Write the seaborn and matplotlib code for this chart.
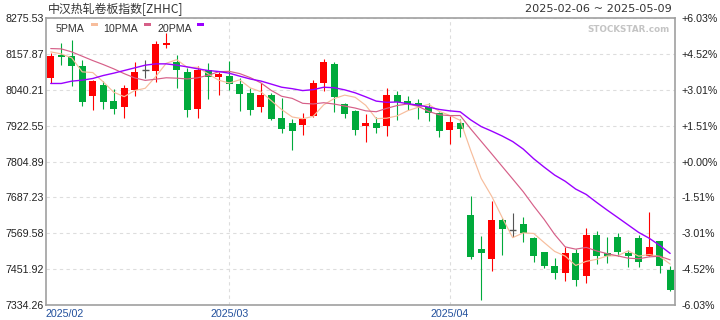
import matplotlib
matplotlib.use("Agg")
import matplotlib.pyplot as plt
import matplotlib.patches as mpatches
import seaborn as sns
import pandas as pd
import numpy as np

# ---------------- data ----------------
title = "中汉热轧卷板指数[ZHHC]"
date_range = "2025-02-06 ~ 2025-05-09"
watermark = "STOCKSTAR.com"
legend_names = ["5PMA", "10PMA", "20PMA"]
month_labels = ["2025/02", "2025/03", "2025/04"]
month_idx = [0, 17, 38]
price_ticks = [7334.26, 7451.92, 7569.58, 7687.23, 7804.89, 7922.55, 8040.21, 8157.87, 8275.53]
pct_labels = ["-6.03%", "-4.52%", "-3.01%", "-1.51%", "+0.00%", "+1.51%", "+3.01%", "+4.52%", "+6.03%"]

open_ = [8078.2, 8153.5, 8152.4, 8119.7, 8020.4, 8055.3, 8001.8, 7983.3, 8040.0, 8104.4,
         8101.1, 8188.4, 8130.6, 8100.0, 7976.7, 8105.5, 8081.5, 8083.7, 8058.6, 8028.0,
         7983.3, 8021.5, 7946.2, 7929.8, 7924.4, 7954.9, 8061.9, 8126.2, 7994.2, 7969.1,
         7921.1, 7929.8, 7921.1, 8021.5, 8001.8, 7995.3, 7983.3, 7962.6, 7908.0, 7929.8,
         7628.7, 7516.3, 7485.7, 7612.3, 7580.7, 7601.4, 7553.4, 7507.6, 7461.7, 7439.9,
         7504.3, 7430.1, 7563.2, 7504.3, 7556.6, 7503.2, 7553.4, 7493.4, 7543.6, 7448.6]
high = [8161.1, 8193.9, 8204.8, 8139.3, 8071.7, 8068.4, 8043.3, 8054.2, 8131.7, 8139.3,
        8201.5, 8226.6, 8155.7, 8112.0, 8117.5, 8128.4, 8098.9, 8133.9, 8079.3, 8044.4,
        8062.9, 8030.2, 8011.6, 7942.9, 7962.6, 8073.8, 8142.6, 8130.6, 7997.5, 7972.4,
        7959.3, 7951.6, 8044.4, 8034.6, 8019.3, 8008.4, 7997.5, 7966.9, 7953.8, 7945.1,
        7690.9, 7559.9, 7674.5, 7618.8, 7635.2, 7623.2, 7556.0, 7508.7, 7486.8, 7526.1,
        7517.4, 7587.2, 7576.3, 7557.7, 7571.9, 7514.1, 7563.2, 7638.5, 7543.6, 7462.8]
low = [8061.9, 8120.8, 8052.0, 7986.6, 7973.5, 7977.8, 7961.5, 7948.4, 8019.3, 8079.3,
       8065.1, 8177.5, 8046.6, 7950.6, 7948.4, 8010.6, 8022.6, 8040.0, 7970.2, 7957.1,
       7966.9, 7940.7, 7898.2, 7842.5, 7891.6, 7951.6, 8035.7, 7966.9, 7947.3, 7891.6,
       7868.7, 7898.2, 7888.4, 7940.7, 7972.4, 7944.0, 7937.5, 7885.1, 7862.2, 7885.1,
       7485.7, 7351.5, 7446.5, 7498.8, 7557.7, 7541.4, 7475.9, 7456.3, 7420.3, 7413.8,
       7397.4, 7407.2, 7469.4, 7472.6, 7495.6, 7459.6, 7459.6, 7493.4, 7439.9, 7380.9]
close = [8152.4, 8146.9, 8117.5, 7999.6, 8067.3, 7999.6, 7976.7, 8044.4, 8100.0, 8104.4,
         8191.7, 8193.9, 8104.4, 7973.5, 8105.5, 8082.6, 8091.3, 8058.6, 8025.8, 7973.5,
         8021.5, 7944.0, 7911.3, 7904.7, 7944.0, 8060.8, 8132.8, 8014.9, 7960.4, 7908.0,
         7929.8, 7914.6, 8021.5, 7998.6, 7993.1, 7985.5, 7964.7, 7904.7, 7933.1, 7911.3,
         7492.3, 7505.4, 7612.3, 7585.0, 7580.7, 7570.8, 7495.6, 7462.8, 7439.9, 7504.3,
         7417.0, 7563.2, 7495.6, 7495.6, 7508.7, 7495.6, 7475.9, 7523.9, 7462.8, 7384.2]

ma5 = [8164.4, 8157.9, 8144.8, 8098.9, 8096.7, 8066.2, 8032.1, 8017.5, 8037.6, 8045.0,
       8083.4, 8126.9, 8138.9, 8113.6, 8113.8, 8092.0, 8071.5, 8062.3, 8072.8, 8046.4,
       8034.1, 8004.7, 7975.2, 7951.0, 7945.1, 7953.0, 7990.7, 8011.4, 8022.6, 8015.4,
       7989.2, 7945.5, 7946.9, 7954.5, 7971.5, 7982.7, 7992.7, 7969.3, 7956.2, 7939.9,
       7841.2, 7749.4, 7690.9, 7621.3, 7555.1, 7570.8, 7568.9, 7539.0, 7510.0, 7494.7,
       7463.9, 7477.4, 7484.0, 7495.1, 7496.0, 7511.7, 7494.3, 7499.9, 7493.4, 7468.5]
ma10 = [8175.3, 8174.2, 8164.4, 8150.2, 8136.0, 8122.9, 8108.8, 8093.0, 8079.0, 8070.9,
        8074.8, 8079.5, 8078.2, 8075.6, 8079.4, 8087.7, 8099.2, 8100.6, 8093.2, 8080.1,
        8063.1, 8038.1, 8018.8, 8011.9, 7995.7, 7993.6, 7997.7, 7993.3, 7986.8, 7980.2,
        7971.1, 7968.1, 7979.2, 7988.5, 7993.5, 7985.9, 7969.1, 7958.1, 7955.4, 7955.7,
        7911.9, 7871.0, 7830.1, 7788.7, 7747.5, 7706.0, 7659.1, 7614.9, 7565.6, 7524.9,
        7517.4, 7523.2, 7511.5, 7502.6, 7495.4, 7487.8, 7485.9, 7492.0, 7494.3, 7482.3]
ma20 = [8060.8, 8060.8, 8068.4, 8071.7, 8077.1, 8086.9, 8094.6, 8103.3, 8112.0, 8120.8,
        8125.1, 8125.1, 8120.8, 8115.3, 8108.8, 8103.3, 8100.0, 8094.6, 8084.8, 8075.5,
        8068.9, 8058.8, 8048.5, 8043.7, 8037.5, 8040.6, 8048.4, 8046.9, 8039.9, 8030.1,
        8017.0, 8003.0, 7998.9, 8000.1, 7994.5, 7989.7, 7983.3, 7975.6, 7971.0, 7967.9,
        7941.4, 7919.5, 7904.5, 7888.5, 7870.3, 7845.8, 7814.0, 7786.4, 7760.3, 7740.1,
        7714.5, 7696.9, 7670.6, 7645.5, 7621.3, 7596.8, 7572.3, 7553.3, 7529.8, 7503.4]

# ---------------- style ----------------
sns.set_style("white")
plt.rcParams["font.family"] = ["Liberation Sans", "Noto Sans CJK SC", "DejaVu Sans"]

UP = "#ff0000"
DOWN = "#00aa3b"
FLAT = "#555555"
MA_COLORS = ["#f7bd9c", "#d65f88", "#9a00ff"]
TXT = "#222222"

W, H = 720, 320
fig = plt.figure(figsize=(W / 100, H / 100), dpi=100)
ax = fig.add_axes([46 / W, 15 / H, 629 / W, 287 / H])

df = pd.DataFrame({"idx": np.arange(len(close)), "open": open_, "high": high,
                   "low": low, "close": close, "ma5": ma5, "ma10": ma10, "ma20": ma20})

cols = []
for o, c in zip(df["open"], df["close"]):
    cols.append(UP if c > o else (DOWN if c < o else FLAT))
df["color"] = cols

body_w = 0.66
# wicks
ax.vlines(df["idx"], df["low"], df["high"], colors=df["color"], lw=0.8, zorder=2)
# bodies
bottom = np.minimum(df["open"], df["close"])
height = np.maximum(np.abs(df["close"] - df["open"]), 3.0)
flat = df["color"] == FLAT
ax.bar(df["idx"][~flat], height[~flat], bottom=bottom[~flat], width=body_w,
       color=df["color"][~flat], linewidth=0, zorder=3)
ax.hlines(df["open"][flat], df["idx"][flat] - body_w / 2, df["idx"][flat] + body_w / 2,
          colors=FLAT, lw=1.0, zorder=3)

# moving averages
for name, colr, lw in zip(["ma5", "ma10", "ma20"], MA_COLORS, [0.85, 0.85, 1.0]):
    sns.lineplot(data=df, x="idx", y=name, color=colr, lw=lw, ax=ax, zorder=4)

ax.set_xlim(-0.45, 59.46)
ax.set_ylim(price_ticks[0], price_ticks[-1])
ax.set_xlabel("")
ax.set_ylabel("")

# grid
ax.set_yticks(price_ticks)
ax.set_yticklabels([f"{v:.2f}" for v in price_ticks])
ax.yaxis.grid(True, linestyle=(0, (3, 3)), color="#dddddd", lw=0.8, zorder=0)
for m in month_idx[1:]:
    ax.axvline(m, linestyle=(0, (3, 3)), color="#dddddd", lw=0.8, zorder=0)
ax.tick_params(axis="y", length=0, pad=1.5, labelsize=7.7, labelcolor=TXT)

ax.set_xticks([-0.45] + month_idx[1:])
ax.set_xticklabels(month_labels)
ax.tick_params(axis="x", length=0, pad=3.0, labelsize=7.7, labelcolor="#22509c")
ax.get_xticklabels()[0].set_horizontalalignment("left")

for s in ax.spines.values():
    s.set_color("#a0a0a0")
    s.set_linewidth(1.2)

ax2 = ax.twinx()
ax2.set_ylim(price_ticks[0], price_ticks[-1])
ax2.set_yticks(price_ticks)
ax2.set_yticklabels(pct_labels)
ax2.tick_params(axis="y", length=0, pad=5.0, labelsize=7.7, labelcolor=TXT)
for s in ax2.spines.values():
    s.set_visible(False)

# texts
def px(x, y):
    return x / W, 1 - y / H

fig.text(*px(48, 13.5), title, fontsize=8.6, color="#333333",
         family=["Noto Sans CJK SC", "DejaVu Sans"], va="baseline", ha="left")
fig.text(*px(672, 12), date_range, fontsize=8.1, color="#333333",
         family=["DejaVu Sans"], va="baseline", ha="right")
fig.text(*px(670, 31.5), watermark, fontsize=6.3, color="#c4c4c4", weight="bold",
         family=["DejaVu Sans"], va="baseline", ha="right")

# legend (text followed by colour swatch)
leg_text_x = [56, 103, 157]
leg_sw_x = [91, 144, 197]
for name, tx, sx, colr in zip(legend_names, leg_text_x, leg_sw_x, MA_COLORS):
    fig.text(*px(tx, 32), name, fontsize=7.7, color="#333333", va="baseline", ha="left")
    fig.patches.append(mpatches.Rectangle(px(sx, 26), 7 / W, 3.3 / H, transform=fig.transFigure,
                                          facecolor=colr, edgecolor="none", figure=fig))

fig.savefig("out.png", dpi=100)
